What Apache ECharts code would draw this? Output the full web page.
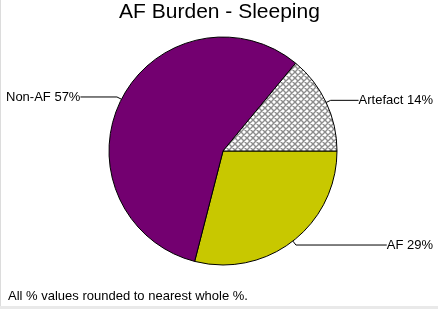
<!DOCTYPE html>
<html>
<head>
<meta charset="utf-8">
<script src="https://cdn.jsdelivr.net/npm/echarts@6/dist/echarts.min.js"></script>
<style>
  html, body { margin: 0; padding: 0; background: #e9e9e9; }
  #chart { width: 437px; height: 306px; background: #fff; border-left: 1px solid #dcdcdc; }
</style>
</head>
<body>
<div id="chart"></div>
<script>
// slice order runs clockwise from 3 o'clock
const categories = ['AF', 'Non-AF', 'Artefact'];
const percents = [29, 57, 14];
const sliceColors = ['#c8c800', '#730070', null]; // null -> hatch pattern

// grey cross-hatch for the artefact slice
function hatch() {
  const c = document.createElement('canvas');
  c.width = 6; c.height = 6;
  const ctx = c.getContext('2d');
  ctx.fillStyle = '#fff';
  ctx.fillRect(0, 0, 6, 6);
  ctx.strokeStyle = '#8c8c8c';
  ctx.lineWidth = 1.4;
  ctx.beginPath();
  [-6, 0, 6].forEach(k => {
    ctx.moveTo(k, 0); ctx.lineTo(k + 6, 6);
    ctx.moveTo(k + 6, 0); ctx.lineTo(k, 6);
  });
  ctx.stroke();
  return c;
}

const myChart = echarts.init(document.getElementById('chart'));
const pieData = categories.map((name, i) => ({
  name: name,
  value: percents[i],
  itemStyle: {
    color: sliceColors[i] ? sliceColors[i] : { image: hatch(), repeat: 'repeat' }
  }
}));

myChart.setOption({
  animation: false,
  title: {
    text: 'AF Burden - Sleeping',
    left: 'center',
    top: 2,
    padding: 0,
    textStyle: { fontFamily: 'Liberation Sans', fontSize: 21, fontWeight: 'normal', color: '#000' }
  },
  graphic: [{
    type: 'text',
    left: 7,
    top: 290,
    style: { text: 'All % values rounded to nearest whole %.', font: '13px "Liberation Sans"', fill: '#000' }
  }],
  series: [{
    type: 'pie',
    center: [222, 151],
    radius: 114,
    startAngle: 0,
    clockwise: true,
    data: pieData,
    itemStyle: { borderColor: '#000', borderWidth: 1 },
    label: {
      show: true,
      formatter: (p) => p.name + ' ' + p.value + '%',
      fontFamily: 'Liberation Sans',
      fontSize: 13,
      color: '#000',
      alignTo: 'edge',
      edgeDistance: 5,
      distanceToLabelLine: 0
    },
    labelLine: {
      show: true,
      length: 5,
      length2: 10,
      lineStyle: { color: '#000', width: 1 }
    },
    emphasis: { disabled: true }
  }]
});
</script>
</body>
</html>
